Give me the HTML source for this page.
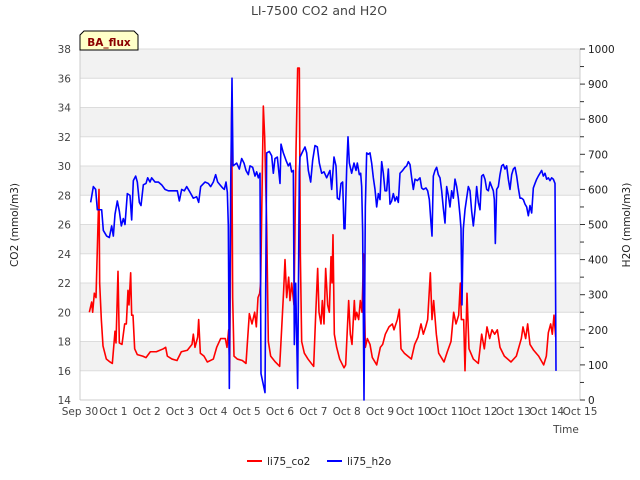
<!DOCTYPE html>
<html><head><meta charset="utf-8"><style>
body{margin:0;background:#fff;}
svg{display:block;font-family:"DejaVu Sans","Liberation Sans",sans-serif;}
</style></head><body>
<svg id="c" width="640" height="480"></svg>
<script>
const xTickLabels=["Sep 30","Oct 1","Oct 2","Oct 3","Oct 4","Oct 5","Oct 6","Oct 7","Oct 8","Oct 9","Oct 10","Oct 11","Oct 12","Oct 13","Oct 14","Oct 15"];
const leftTicks=[14,16,18,20,22,24,26,28,30,32,34,36,38];
const rightTicks=[0,100,200,300,400,500,600,700,800,900,1000];
const co2Time=[0.28,0.35,0.38,0.43,0.48,0.54,0.57,0.59,0.64,0.69,0.79,0.90,0.97,1.05,1.08,1.14,1.18,1.26,1.34,1.39,1.44,1.47,1.52,1.55,1.59,1.64,1.72,1.88,1.98,2.11,2.29,2.50,2.57,2.62,2.76,2.91,3.04,3.22,3.36,3.40,3.45,3.53,3.56,3.61,3.72,3.82,4.00,4.10,4.22,4.36,4.41,4.46,4.49,4.55,4.58,4.62,4.72,4.87,4.98,5.08,5.16,5.24,5.29,5.34,5.39,5.42,5.50,5.54,5.60,5.65,5.72,5.86,5.99,6.03,6.11,6.15,6.20,6.26,6.30,6.35,6.42,6.48,6.53,6.58,6.61,6.65,6.73,6.84,6.94,7.01,7.07,7.13,7.17,7.23,7.27,7.32,7.37,7.43,7.48,7.53,7.56,7.59,7.63,7.70,7.79,7.92,7.97,8.06,8.11,8.16,8.23,8.26,8.30,8.36,8.41,8.46,8.51,8.56,8.62,8.70,8.77,8.90,9.01,9.08,9.16,9.27,9.37,9.42,9.52,9.58,9.63,9.73,9.94,10.04,10.14,10.23,10.30,10.37,10.43,10.51,10.56,10.61,10.69,10.76,10.92,11.02,11.13,11.21,11.28,11.36,11.41,11.44,11.51,11.55,11.61,11.67,11.80,11.95,12.05,12.13,12.21,12.29,12.36,12.44,12.52,12.60,12.73,12.93,13.09,13.24,13.29,13.37,13.43,13.50,13.61,13.76,13.91,13.99,14.05,14.12,14.17,14.22,14.27];
const co2Vals=[20,20.7,20,21.3,21,26,28.4,22,19.5,17.7,16.8,16.6,16.5,18.7,17.9,22.8,17.9,17.8,19.2,19.2,21.5,20.5,22.7,19.8,19.8,17.5,17.1,17,16.9,17.3,17.3,17.5,17.6,17,16.8,16.7,17.3,17.4,17.8,18.5,17.6,18.3,19.5,17.2,17,16.6,16.8,17.6,18.2,18.2,17.6,18.8,16,34,21,17,16.8,16.7,16.5,19.9,19.2,20,19,21,21.3,22,34.1,32,26,18,17,16.6,16.3,18,21.5,23.6,21,22.4,20.8,22,20.5,31,36.7,36.7,24,18,17.2,16.8,16.5,16.3,19.8,23,20,19.2,20.8,19.2,23,20.5,20,23.8,22,25.3,18.5,17.6,16.8,16.2,16.4,20.8,18.5,17.8,20.8,19.5,20,19.5,20.8,20,24,17.6,18.2,17.8,16.9,16.4,17.6,17.8,18.5,19,19.2,18.8,19.5,20.2,17.5,17.2,16.8,17.8,18.3,19.2,18.5,19,19.5,22.7,19.5,20.8,18.5,17.2,16.6,17.3,18,20,19.2,19.8,22,19.5,19.5,16,21.3,17.5,16.8,16.5,18.5,17.5,19,18.2,18.8,18.5,18.8,17.6,17,16.6,17,18.2,19,18.2,19.2,17.8,17.4,17,16.4,17,18.6,19.2,18.5,19.8,18.3];
const h2oTime=[0.32,0.40,0.47,0.52,0.58,0.65,0.70,0.80,0.88,0.95,1.00,1.05,1.12,1.18,1.24,1.30,1.35,1.42,1.50,1.55,1.60,1.67,1.72,1.78,1.83,1.90,1.98,2.03,2.10,2.15,2.25,2.35,2.45,2.55,2.65,2.80,2.92,2.98,3.05,3.13,3.20,3.30,3.40,3.50,3.56,3.62,3.75,3.85,3.92,4.00,4.07,4.13,4.20,4.28,4.33,4.38,4.42,4.45,4.46,4.48,4.52,4.56,4.59,4.70,4.78,4.85,4.92,4.98,5.05,5.10,5.18,5.25,5.30,5.35,5.40,5.43,5.55,5.60,5.68,5.75,5.80,5.85,5.92,6.00,6.03,6.10,6.18,6.25,6.30,6.35,6.40,6.43,6.47,6.53,6.58,6.60,6.68,6.75,6.80,6.85,6.92,6.98,7.05,7.12,7.18,7.25,7.32,7.40,7.48,7.50,7.55,7.62,7.68,7.72,7.78,7.83,7.88,7.92,7.95,8.00,8.04,8.08,8.15,8.22,8.28,8.32,8.38,8.42,8.45,8.48,8.52,8.56,8.60,8.65,8.70,8.75,8.80,8.85,8.90,8.95,9.00,9.05,9.10,9.15,9.20,9.25,9.30,9.35,9.40,9.45,9.50,9.55,9.60,9.68,9.75,9.80,9.85,9.90,9.95,10.00,10.05,10.12,10.20,10.25,10.30,10.38,10.43,10.48,10.53,10.56,10.60,10.65,10.70,10.75,10.80,10.85,10.90,10.95,11.00,11.05,11.10,11.15,11.20,11.25,11.30,11.35,11.40,11.43,11.46,11.48,11.50,11.55,11.60,11.65,11.70,11.75,11.80,11.85,11.90,11.95,12.00,12.05,12.10,12.15,12.20,12.25,12.30,12.35,12.40,12.43,12.46,12.50,12.55,12.60,12.65,12.70,12.75,12.80,12.85,12.90,12.95,13.00,13.05,13.10,13.15,13.20,13.25,13.30,13.35,13.40,13.45,13.50,13.55,13.60,13.65,13.70,13.75,13.80,13.85,13.90,13.95,14.00,14.05,14.10,14.15,14.20,14.25,14.28];
const h2oVals=[563,608,600,542,542,542,483,467,463,496,467,529,567,538,496,517,500,588,583,513,625,638,621,563,554,613,617,633,621,633,621,621,613,600,596,596,596,567,600,596,608,592,575,579,563,608,621,617,608,621,642,621,613,604,600,621,592,496,346,33,600,917,667,675,658,688,675,654,642,667,663,638,650,633,646,75,21,704,708,696,646,688,692,617,729,704,683,667,675,650,654,158,333,33,650,692,708,721,704,654,621,683,725,721,675,646,650,633,650,654,600,692,667,575,571,617,621,488,488,658,750,675,646,675,654,675,642,646,608,479,0,550,704,700,704,675,633,600,550,588,571,679,646,596,596,658,558,567,588,567,579,563,646,654,663,667,679,671,633,600,629,625,633,604,600,604,596,571,504,467,638,654,663,642,633,596,546,504,608,583,550,596,575,629,608,575,525,488,271,396,488,542,575,608,596,538,496,542,608,563,542,638,642,629,600,596,621,608,596,571,446,600,608,642,667,671,658,667,629,600,642,658,663,638,604,575,575,571,558,550,525,554,533,604,617,629,638,646,654,638,646,629,633,625,633,629,617,83];
const NS="http://www.w3.org/2000/svg";
const svg=document.getElementById('c');
const X0=80,X1=580,Y0=400,Y1=49;
function xs(t){return X0+(X1-X0)*t/15;}
function yL(v){return Y0-(Y0-Y1)*(v-14)/24;}
function yR(v){return Y0-(Y0-Y1)*v/1000;}
function mk(tag,attrs,parent){const e=document.createElementNS(NS,tag);for(const k in attrs)e.setAttribute(k,attrs[k]);(parent||svg).appendChild(e);return e;}
const plot=mk('g',{});


for(let i=0;i<leftTicks.length-1;i++){
  const a=leftTicks[i],b=leftTicks[i+1];
  const band=mk('rect',{x:X0,y:yL(b),width:X1-X0,height:yL(a)-yL(b),fill:(i%2===1)?'#f2f2f2':'#ffffff'},plot);
  
  
}
leftTicks.forEach(v=>{
  const g=mk('line',{x1:X0,x2:X1,y1:yL(v),y2:yL(v),stroke:'#dcdcdc','stroke-width':1},plot);
  
  
  const t=mk('text',{x:71,y:yL(v)+4,'text-anchor':'end','font-size':10.5,fill:'#444'});
  t.textContent=v;
  
  
});
mk('line',{x1:X0,x2:X0,y1:Y1,y2:Y0,stroke:'#ccc'});
mk('line',{x1:X1,x2:X1,y1:Y1,y2:Y0,stroke:'#ccc'});
mk('line',{x1:X0,x2:X1,y1:Y0,y2:Y0,stroke:'#ccc'});
rightTicks.forEach(v=>{
  const tk=mk('line',{x1:X1,x2:X1+5,y1:yR(v),y2:yR(v),stroke:'#333'});
  
  
  if(v<1000){const m=mk('line',{x1:X1,x2:X1+4,y1:yR(v+50),y2:yR(v+50),stroke:'#333'});
  
  }
  const t=mk('text',{x:588,y:yR(v)+4,'font-size':10.5,fill:'#222'});
  t.textContent=v;
  
  
});
xTickLabels.forEach((l,i)=>{
  const t=mk('text',{x:xs(i),y:415,'text-anchor':'middle','font-size':10.5,fill:'#444'});
  t.textContent=l;
  
  
});
const co2=mk('polyline',{fill:'none',stroke:'#ff0000','stroke-width':1.6,'stroke-linejoin':'round',points:co2Time.map((t,i)=>xs(t)+','+yL(co2Vals[i])).join(' ')});


const h2o=mk('polyline',{fill:'none',stroke:'#0000ff','stroke-width':1.6,'stroke-linejoin':'round',points:h2oTime.map((t,i)=>xs(t)+','+yR(h2oVals[i])).join(' ')});


</script>
<svg width="640" height="480" style="position:absolute;left:0;top:0;font-family:'DejaVu Sans','Liberation Sans',sans-serif">
<text x="319" y="15" text-anchor="middle" font-size="12.5" fill="#444">LI-7500 CO2 and H2O</text>
<text transform="translate(18,225) rotate(-90)" text-anchor="middle" font-size="10.5" fill="#222">CO2 (mmol/m3)</text>
<text transform="translate(630,225) rotate(-90)" text-anchor="middle" font-size="10.5" fill="#222">H2O (mmol/m3)</text>
<text x="566" y="433" text-anchor="middle" font-size="10.5" fill="#444">Time</text>
<g>
<polygon points="84,31 134,31 138,35 138,50 80,50 80,35" fill="#ffffc8" stroke="#000" stroke-width="1"/>
<text x="109" y="46" text-anchor="middle" font-size="10.5" font-weight="bold" fill="#8b0000">BA_flux</text>
</g>
<g>
<line x1="247" x2="262" y1="461" y2="461" stroke="#ff0000" stroke-width="2"/>
<text x="267" y="465" font-size="10.5" fill="#222">li75_co2</text>
<line x1="327" x2="342" y1="461" y2="461" stroke="#0000ff" stroke-width="2"/>
<text x="347" y="465" font-size="10.5" fill="#222">li75_h2o</text>
</g>
</svg>
</body></html>
